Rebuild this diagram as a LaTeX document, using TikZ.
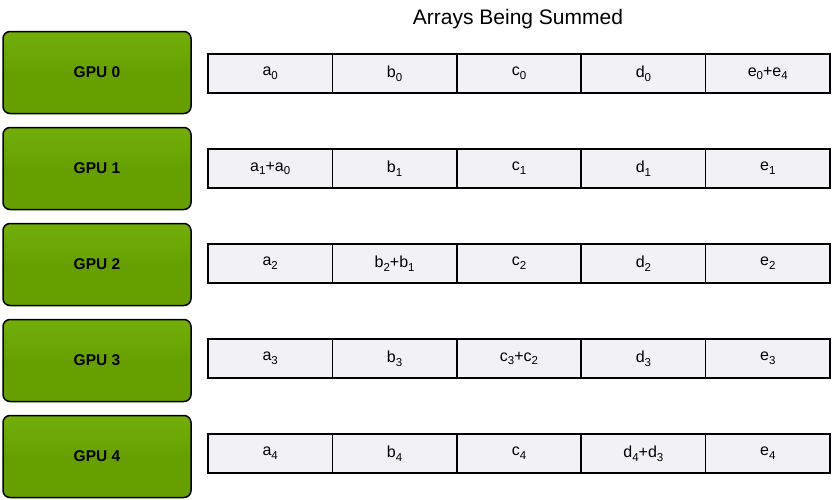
\documentclass[tikz,border=0pt]{standalone}
\usepackage{fontspec}
\setmainfont{Liberation Sans}
\usepackage{tikz}
\usetikzlibrary{positioning,fit}

\definecolor{gpugreen}{RGB}{102,160,0}
\definecolor{gpugreenlight}{RGB}{114,174,10}
\definecolor{cellgray}{RGB}{242,242,245}

\newcommand{\gsub}[1]{\raisebox{-0.45ex}{\fontsize{11.5}{12}\selectfont #1}}

\begin{document}
\begin{tikzpicture}[x=1pt,y=-1pt]
				\tikzset{gpu/.style={draw=black,line width=1.5pt,rounded corners=7pt,top color=gpugreenlight,bottom color=gpugreen,middle color=gpugreen,minimum width=188pt,minimum height=82pt,inner sep=0pt,font=\fontsize{15.5}{17}\selectfont\bfseries}}
				\tikzset{cell/.style={draw=black,line width=1.5pt,fill=cellgray,minimum width=124.4pt,minimum height=39pt,inner sep=0pt,outer sep=0pt,font=\fontsize{16}{18}\selectfont}}

				\useasboundingbox (0,0) rectangle (832,499);

				% Title
				\node (title) at (518,19) {\fontsize{21}{24}\selectfont Arrays Being Summed};

				% GPUs
				\foreach \i in {0,...,4}
					\node[gpu] (gpu\i) at (97,72.5+96*\i) {GPU \i};

				% Arrays
				\foreach \i/\la/\lb/\lc/\ld/\le in {
						0/{a\gsub{0}}/{b\gsub{0}}/{c\gsub{0}}/{d\gsub{0}}/{e\gsub{0}+e\gsub{4}},
						1/{a\gsub{1}+a\gsub{0}}/{b\gsub{1}}/{c\gsub{1}}/{d\gsub{1}}/{e\gsub{1}},
						2/{a\gsub{2}}/{b\gsub{2}+b\gsub{1}}/{c\gsub{2}}/{d\gsub{2}}/{e\gsub{2}},
						3/{a\gsub{3}}/{b\gsub{3}}/{c\gsub{3}+c\gsub{2}}/{d\gsub{3}}/{e\gsub{3}},
						4/{a\gsub{4}}/{b\gsub{4}}/{c\gsub{4}}/{d\gsub{4}+d\gsub{3}}/{e\gsub{4}}}{
					\node[cell] (a\i) at (270.2,73.5+95*\i) {\la};
					\node[cell, right=0pt of a\i] (b\i) {\lb};
					\node[cell, right=0pt of b\i] (c\i) {\lc};
					\node[cell, right=0pt of c\i] (d\i) {\ld};
					\node[cell, right=0pt of d\i] (e\i) {\le};
				}

			\end{tikzpicture}
\end{document}
